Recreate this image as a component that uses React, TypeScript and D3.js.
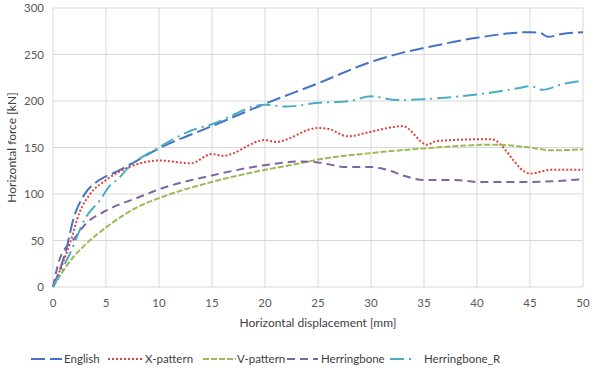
import React, { useEffect, useRef } from 'react';
import * as d3 from 'd3';

type Pt = [number, number];

const english: Pt[] = [[0, 0], [1.3, 43], [1.9, 72], [3, 100], [4, 112], [5, 119], [6, 124], [7, 130], [10, 149], [15, 173], [20, 197], [25, 219], [30, 242], [33, 252], [35, 257], [40, 268], [45, 274], [46, 273], [46.7, 269], [48, 272], [50, 274]];
const xPattern: Pt[] = [[0, 0], [1.6, 47], [2.5, 80], [3.5, 100], [5, 115], [7.2, 129], [10, 136], [13, 133], [15, 143], [16, 141], [20, 158], [21, 156], [25, 171], [26, 170], [27.8, 162], [30, 167], [33, 173], [35.3, 153], [36.2, 157], [41.3, 159], [45, 122], [47, 126], [50, 126]];
const vPattern: Pt[] = [[0, 0], [1.9, 32], [3, 45], [5, 64], [8, 86], [10.6, 98], [15, 113], [20, 126], [23.3, 133], [25, 137], [30, 144], [35, 149], [41.5, 153], [45, 150], [47, 147], [50, 148]];
const herringbone: Pt[] = [[0, 0], [0.6, 29], [2, 52], [3.1, 68], [5, 82], [8.2, 97], [10, 105], [15, 120], [20, 131], [23.5, 135], [25, 134], [27.7, 129], [30, 129], [31.8, 125], [33, 120], [35, 115], [38, 115], [40, 113], [45, 113], [50, 116]];
const herringboneR: Pt[] = [[0, 0], [1.6, 36], [3.1, 75], [4.4, 93], [5.3, 108], [6.3, 118], [7, 127], [10, 150], [13, 168], [15, 175], [20, 196], [22, 194], [25, 198], [28, 200], [30, 205], [32.5, 201], [35, 202], [40, 207], [44, 214], [45, 216], [46.2, 212], [48, 218], [50, 222]];

const seriesNames = ['English', 'X-pattern', 'V-pattern', 'Herringbone', 'Herringbone_R'];
const seriesData = [english, xPattern, vPattern, herringbone, herringboneR];
const colors = ['#4472C4', '#E0403C', '#9BBB59', '#8064A2', '#4BACC6'];
const dashes = ['14,5', '2,2', '6,2', '8,5', '14,5,2,5'];

const xTicks = [0, 5, 10, 15, 20, 25, 30, 35, 40, 45, 50];
const yTicks = [0, 50, 100, 150, 200, 250, 300];

const W = 600;
const H = 372;
const left = 53;
const right = 583;
const top = 8;
const bottom = 287;

const font = 'Lato, "Liberation Sans", sans-serif';

const App: React.FC = () => {
  const svgRef = useRef<SVGSVGElement | null>(null);

  useEffect(() => {
    const svg = d3.select(svgRef.current);
    svg.selectAll('*').remove();

    const x = d3.scaleLinear().domain([0, 50]).range([left, right]);
    const y = d3.scaleLinear().domain([0, 300]).range([bottom, top]);

    // grid
    svg.append('g')
      .selectAll('line')
      .data(xTicks)
      .join('line')
      .attr('x1', d => x(d)).attr('x2', d => x(d))
      .attr('y1', top).attr('y2', bottom)
      .attr('stroke', '#d9d9d9').attr('stroke-width', 1);
    svg.append('g')
      .selectAll('line')
      .data(yTicks)
      .join('line')
      .attr('x1', left).attr('x2', right)
      .attr('y1', d => y(d)).attr('y2', d => y(d))
      .attr('stroke', '#d9d9d9').attr('stroke-width', 1);

    // tick labels
    svg.append('g')
      .selectAll('text')
      .data(xTicks)
      .join('text')
      .attr('x', d => x(d))
      .attr('y', bottom + 20)
      .attr('text-anchor', 'middle')
      .attr('font-family', font)
      .attr('font-size', 11.5)
      .attr('fill', '#595959')
      .text(d => d);
    svg.append('g')
      .selectAll('text')
      .data(yTicks)
      .join('text')
      .attr('x', left - 9)
      .attr('y', d => y(d) + 4)
      .attr('text-anchor', 'end')
      .attr('font-family', font)
      .attr('font-size', 11.5)
      .attr('fill', '#595959')
      .text(d => d);

    // axis titles
    svg.append('text')
      .attr('x', (left + right) / 2)
      .attr('y', 327)
      .attr('text-anchor', 'middle')
      .attr('font-family', font)
      .attr('font-size', 12)
      .attr('fill', '#404040')
      .text('Horizontal displacement [mm]');
    svg.append('text')
      .attr('transform', `translate(16,${(top + bottom) / 2}) rotate(-90)`)
      .attr('text-anchor', 'middle')
      .attr('font-family', font)
      .attr('font-size', 12)
      .attr('fill', '#404040')
      .text('Horizontal force [kN]');

    // lines
    const line = d3.line<Pt>()
      .x(d => x(d[0]))
      .y(d => y(d[1]))
      .curve(d3.curveMonotoneX);

    svg.append('g')
      .selectAll('path')
      .data(seriesData)
      .join('path')
      .attr('d', d => line(d))
      .attr('fill', 'none')
      .attr('stroke', (_, i) => colors[i])
      .attr('stroke-width', 2)
      .attr('stroke-dasharray', (_, i) => dashes[i]);

    // legend
    const legendX = [31, 108, 203, 287, 390];
    const sampleW = [31, 35, 33, 31, 24];
    const textX = [64, 145, 237, 321, 424];
    const ly = 359;
    const lg = svg.append('g');
    seriesNames.forEach((name, i) => {
      lg.append('line')
        .attr('x1', legendX[i]).attr('x2', legendX[i] + sampleW[i])
        .attr('y1', ly).attr('y2', ly)
        .attr('stroke', colors[i])
        .attr('stroke-width', 2)
        .attr('stroke-dasharray', dashes[i]);
      lg.append('text')
        .attr('x', textX[i])
        .attr('y', ly + 4)
        .attr('font-family', font)
        .attr('font-size', 11.5)
        .attr('fill', '#404040')
        .text(name);
    });
  }, []);

  return (
    <svg ref={svgRef} width={W} height={H} style={{ position: 'absolute', left: 0, top: 0, background: '#fff' }} />
  );
};

export default App;
